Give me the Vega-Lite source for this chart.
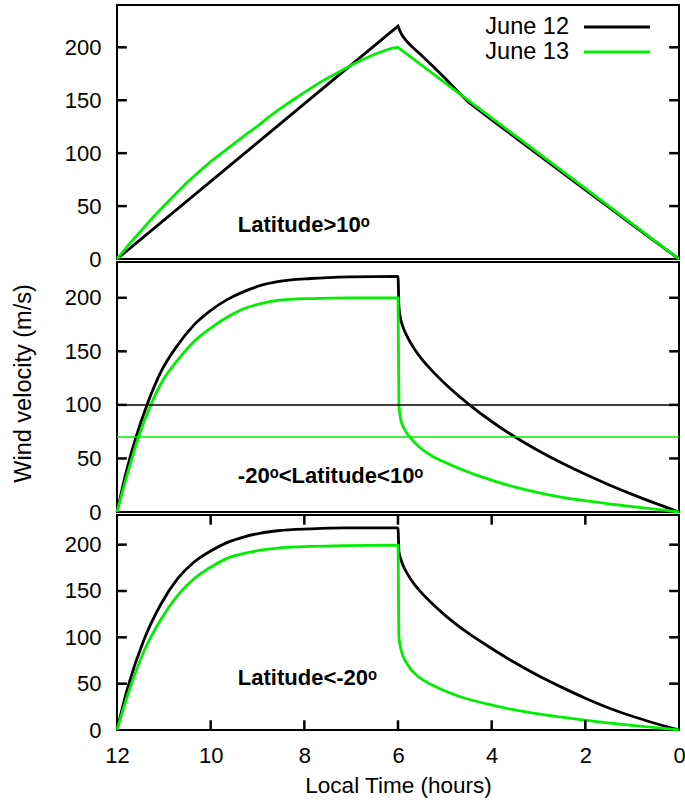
{
  "$schema": "https://vega.github.io/schema/vega-lite/v6.json",
  "padding": {"left": 10, "top": 4, "right": 2, "bottom": 2},
  "background": "white",
  "config": {
    "font": "Liberation Sans",
    "view": {"stroke": "black", "strokeWidth": 2},
    "axis": {"grid": false, "domain": false, "ticks": false, "labelFont": "Liberation Sans", "labelFontSize": 22, "labelColor": "black", "titleFont": "Liberation Sans", "titleFontSize": 22.5, "titleFontWeight": "normal", "titleColor": "black", "labelFlush": false}
  },
  "datasets": {
    "ytk": [
      {"t": "L50", "h": 12, "v": 50}, {"t": "L50", "h": 11.79, "v": 50}, {"t": "L100", "h": 12, "v": 100}, {"t": "L100", "h": 11.79, "v": 100},
      {"t": "L150", "h": 12, "v": 150}, {"t": "L150", "h": 11.79, "v": 150}, {"t": "L200", "h": 12, "v": 200}, {"t": "L200", "h": 11.79, "v": 200},
      {"t": "R50", "h": 0, "v": 50}, {"t": "R50", "h": 0.21, "v": 50}, {"t": "R100", "h": 0, "v": 100}, {"t": "R100", "h": 0.21, "v": 100},
      {"t": "R150", "h": 0, "v": 150}, {"t": "R150", "h": 0.21, "v": 150}, {"t": "R200", "h": 0, "v": 200}, {"t": "R200", "h": 0.21, "v": 200}
    ],
    "xtk": [
      {"t": "B2", "h": 2, "v": 0}, {"t": "B2", "h": 2, "v": 10.5}, {"t": "B4", "h": 4, "v": 0}, {"t": "B4", "h": 4, "v": 10.5},
      {"t": "B6", "h": 6, "v": 0}, {"t": "B6", "h": 6, "v": 10.5}, {"t": "B8", "h": 8, "v": 0}, {"t": "B8", "h": 8, "v": 10.5},
      {"t": "B10", "h": 10, "v": 0}, {"t": "B10", "h": 10, "v": 10.5},
      {"t": "T2", "h": 2, "v": 232}, {"t": "T2", "h": 2, "v": 221.5}, {"t": "T4", "h": 4, "v": 232}, {"t": "T4", "h": 4, "v": 221.5},
      {"t": "T6", "h": 6, "v": 232}, {"t": "T6", "h": 6, "v": 221.5}, {"t": "T8", "h": 8, "v": 232}, {"t": "T8", "h": 8, "v": 221.5},
      {"t": "T10", "h": 10, "v": 232}, {"t": "T10", "h": 10, "v": 221.5}
    ],
    "top": [
      {"series": "June 12", "h": 12, "v": 0}, {"series": "June 12", "h": 9, "v": 110}, {"series": "June 12", "h": 6, "v": 220},
      {"series": "June 12", "h": 5.95, "v": 214.5}, {"series": "June 12", "h": 5.9, "v": 210.5}, {"series": "June 12", "h": 5.8, "v": 205},
      {"series": "June 12", "h": 5.7, "v": 200.5}, {"series": "June 12", "h": 5.6, "v": 196.5}, {"series": "June 12", "h": 5.5, "v": 192.5},
      {"series": "June 12", "h": 5.25, "v": 182}, {"series": "June 12", "h": 5, "v": 171}, {"series": "June 12", "h": 4.75, "v": 159.5},
      {"series": "June 12", "h": 4.5, "v": 148.5}, {"series": "June 12", "h": 4.25, "v": 140},
      {"series": "June 12", "h": 4, "v": 131.5}, {"series": "June 12", "h": 3.5, "v": 115}, {"series": "June 12", "h": 3, "v": 98.3},
      {"series": "June 12", "h": 2.5, "v": 81.8}, {"series": "June 12", "h": 2, "v": 65.3}, {"series": "June 12", "h": 1.5, "v": 48.9},
      {"series": "June 12", "h": 1, "v": 32.5}, {"series": "June 12", "h": 0.5, "v": 16.2}, {"series": "June 12", "h": 0, "v": 0},
      {"series": "June 13", "h": 12, "v": 0}, {"series": "June 13", "h": 11.75, "v": 13.5}, {"series": "June 13", "h": 11.5, "v": 26},
      {"series": "June 13", "h": 11.25, "v": 38.5}, {"series": "June 13", "h": 11, "v": 50}, {"series": "June 13", "h": 10.75, "v": 61.5},
      {"series": "June 13", "h": 10.5, "v": 72.5}, {"series": "June 13", "h": 10.25, "v": 82.5}, {"series": "June 13", "h": 10, "v": 92},
      {"series": "June 13", "h": 9.75, "v": 100.5}, {"series": "June 13", "h": 9.5, "v": 109}, {"series": "June 13", "h": 9.25, "v": 117.5},
      {"series": "June 13", "h": 9, "v": 125.5}, {"series": "June 13", "h": 8.75, "v": 134.5}, {"series": "June 13", "h": 8.5, "v": 142.5},
      {"series": "June 13", "h": 8.25, "v": 150}, {"series": "June 13", "h": 8, "v": 157.5}, {"series": "June 13", "h": 7.75, "v": 164.5},
      {"series": "June 13", "h": 7.5, "v": 171}, {"series": "June 13", "h": 7.25, "v": 177}, {"series": "June 13", "h": 7, "v": 183},
      {"series": "June 13", "h": 6.75, "v": 188.5}, {"series": "June 13", "h": 6.5, "v": 193.5}, {"series": "June 13", "h": 6.25, "v": 197.5},
      {"series": "June 13", "h": 6.1, "v": 199.5}, {"series": "June 13", "h": 6, "v": 200}, {"series": "June 13", "h": 3, "v": 100},
      {"series": "June 13", "h": 0, "v": 0}
    ],
    "mid": [
      {"series": "June 12", "h": 12, "v": 0}, {"series": "June 12", "h": 11.8, "v": 38}, {"series": "June 12", "h": 11.59, "v": 70.5},
      {"series": "June 12", "h": 11.36, "v": 100}, {"series": "June 12", "h": 11.06, "v": 131},
      {"series": "June 12", "h": 10.71, "v": 155.5}, {"series": "June 12", "h": 10.36, "v": 174.5}, {"series": "June 12", "h": 9.99, "v": 188.5},
      {"series": "June 12", "h": 9.64, "v": 198.5}, {"series": "June 12", "h": 9.28, "v": 206}, {"series": "June 12", "h": 8.93, "v": 211.5},
      {"series": "June 12", "h": 8.57, "v": 215}, {"series": "June 12", "h": 7.86, "v": 218}, {"series": "June 12", "h": 7, "v": 219.5},
      {"series": "June 12", "h": 6, "v": 220}, {"series": "June 12", "h": 5.98, "v": 191.5}, {"series": "June 12", "h": 5.94, "v": 179.5},
      {"series": "June 12", "h": 5.9, "v": 173.5}, {"series": "June 12", "h": 5.8, "v": 163.5}, {"series": "June 12", "h": 5.65, "v": 152.2},
      {"series": "June 12", "h": 5.5, "v": 143.2}, {"series": "June 12", "h": 5.3, "v": 133.2}, {"series": "June 12", "h": 5, "v": 120},
      {"series": "June 12", "h": 4.5, "v": 101}, {"series": "June 12", "h": 4, "v": 84.5}, {"series": "June 12", "h": 3.5, "v": 70},
      {"series": "June 12", "h": 3, "v": 57.2}, {"series": "June 12", "h": 2.5, "v": 45.7}, {"series": "June 12", "h": 2, "v": 35.2},
      {"series": "June 12", "h": 1.5, "v": 25.5}, {"series": "June 12", "h": 1, "v": 16.5}, {"series": "June 12", "h": 0.5, "v": 8},
      {"series": "June 12", "h": 0, "v": 0},
      {"series": "June 13", "h": 12, "v": 0}, {"series": "June 13", "h": 11.8, "v": 32}, {"series": "June 13", "h": 11.54, "v": 70},
      {"series": "June 13", "h": 11.28, "v": 100}, {"series": "June 13", "h": 11.06, "v": 120}, {"series": "June 13", "h": 10.71, "v": 141.5},
      {"series": "June 13", "h": 10.36, "v": 159}, {"series": "June 13", "h": 9.99, "v": 172}, {"series": "June 13", "h": 9.64, "v": 182},
      {"series": "June 13", "h": 9.28, "v": 190}, {"series": "June 13", "h": 8.93, "v": 194.5}, {"series": "June 13", "h": 8.57, "v": 197.5},
      {"series": "June 13", "h": 7.86, "v": 199.3}, {"series": "June 13", "h": 7, "v": 200}, {"series": "June 13", "h": 6, "v": 200},
      {"series": "June 13", "h": 5.98, "v": 100}, {"series": "June 13", "h": 5.94, "v": 86}, {"series": "June 13", "h": 5.87, "v": 78},
      {"series": "June 13", "h": 5.72, "v": 68.5}, {"series": "June 13", "h": 5.51, "v": 59.3}, {"series": "June 13", "h": 5.3, "v": 53},
      {"series": "June 13", "h": 4.94, "v": 45.3}, {"series": "June 13", "h": 4.23, "v": 33}, {"series": "June 13", "h": 3.52, "v": 23.5},
      {"series": "June 13", "h": 2.81, "v": 16.3}, {"series": "June 13", "h": 2.09, "v": 11}, {"series": "June 13", "h": 1.38, "v": 7},
      {"series": "June 13", "h": 0.67, "v": 3.4}, {"series": "June 13", "h": 0, "v": 0}
    ],
    "bot": [
      {"series": "June 12", "h": 12, "v": 0}, {"series": "June 12", "h": 11.77, "v": 46}, {"series": "June 12", "h": 11.42, "v": 98},
      {"series": "June 12", "h": 11.06, "v": 136}, {"series": "June 12", "h": 10.71, "v": 163}, {"series": "June 12", "h": 10.36, "v": 181},
      {"series": "June 12", "h": 9.99, "v": 193.5}, {"series": "June 12", "h": 9.64, "v": 202.5}, {"series": "June 12", "h": 9.28, "v": 208.5},
      {"series": "June 12", "h": 8.93, "v": 212.5}, {"series": "June 12", "h": 8.57, "v": 215}, {"series": "June 12", "h": 7.86, "v": 217},
      {"series": "June 12", "h": 7.15, "v": 218}, {"series": "June 12", "h": 6, "v": 218}, {"series": "June 12", "h": 5.98, "v": 192.5},
      {"series": "June 12", "h": 5.94, "v": 184.5}, {"series": "June 12", "h": 5.9, "v": 178.5}, {"series": "June 12", "h": 5.8, "v": 168.5},
      {"series": "June 12", "h": 5.65, "v": 157.2}, {"series": "June 12", "h": 5.5, "v": 148.2}, {"series": "June 12", "h": 5.3, "v": 137.8},
      {"series": "June 12", "h": 5, "v": 124}, {"series": "June 12", "h": 4.5, "v": 104.5}, {"series": "June 12", "h": 4, "v": 88},
      {"series": "June 12", "h": 3.5, "v": 72.5}, {"series": "June 12", "h": 3, "v": 58.5}, {"series": "June 12", "h": 2.5, "v": 46},
      {"series": "June 12", "h": 2, "v": 34.3}, {"series": "June 12", "h": 1.5, "v": 23.8}, {"series": "June 12", "h": 1, "v": 14.8},
      {"series": "June 12", "h": 0.5, "v": 7}, {"series": "June 12", "h": 0, "v": 0},
      {"series": "June 13", "h": 12, "v": 0}, {"series": "June 13", "h": 11.77, "v": 38}, {"series": "June 13", "h": 11.42, "v": 85.5},
      {"series": "June 13", "h": 11.06, "v": 119.5}, {"series": "June 13", "h": 10.71, "v": 145}, {"series": "June 13", "h": 10.36, "v": 163},
      {"series": "June 13", "h": 9.99, "v": 176}, {"series": "June 13", "h": 9.64, "v": 185.5}, {"series": "June 13", "h": 9.28, "v": 190.5},
      {"series": "June 13", "h": 8.93, "v": 194}, {"series": "June 13", "h": 8.57, "v": 196.3}, {"series": "June 13", "h": 7.86, "v": 198.1},
      {"series": "June 13", "h": 7.15, "v": 199}, {"series": "June 13", "h": 6, "v": 199.5}, {"series": "June 13", "h": 5.98, "v": 100},
      {"series": "June 13", "h": 5.93, "v": 85.6}, {"series": "June 13", "h": 5.8, "v": 71}, {"series": "June 13", "h": 5.59, "v": 58.6},
      {"series": "June 13", "h": 5.44, "v": 53.2}, {"series": "June 13", "h": 5.08, "v": 44}, {"series": "June 13", "h": 4.73, "v": 37},
      {"series": "June 13", "h": 4.01, "v": 27}, {"series": "June 13", "h": 3.3, "v": 19.7}, {"series": "June 13", "h": 2.59, "v": 14.4},
      {"series": "June 13", "h": 1.88, "v": 9.9}, {"series": "June 13", "h": 1.17, "v": 5.8}, {"series": "June 13", "h": 0.46, "v": 2.4},
      {"series": "June 13", "h": 0, "v": 0}
    ]
  },
  "spacing": 3,
  "bounds": "flush",
  "resolve": {"scale": {"color": "independent"}},
  "vconcat": [
    {
      "width": 562, "height": 254,
      "layer": [
        {
          "data": {"name": "top"},
          "mark": {"type": "line", "strokeWidth": 2.8},
          "encoding": {
            "x": {"field": "h", "type": "quantitative", "scale": {"domain": [0, 12], "reverse": true, "nice": false, "zero": false}, "axis": null},
            "y": {"field": "v", "type": "quantitative", "scale": {"domain": [0, 240], "nice": false}, "axis": {"values": [0, 50, 100, 150, 200], "title": null, "labelPadding": 16}},
            "color": {"field": "series", "type": "nominal", "scale": {"domain": ["June 12", "June 13"], "range": ["#000000", "#00ee00"]},
              "legend": {"title": null, "orient": "none", "legendX": 455.25, "legendY": 10.25, "padding": 0, "symbolType": "M0,0H12", "symbolSize": 121, "symbolStrokeWidth": 3, "symbolFillColor": "transparent", "labelAlign": "right", "labelOffset": -26.75, "labelFont": "Liberation Sans", "labelFontSize": 23.5, "labelColor": "black", "rowPadding": 0}}
          }
        },
        {
          "data": {"values": [{"label": "Latitude>10ᵒ", "h": 9.42, "v": 25.7}]},
          "mark": {"type": "text", "align": "left", "baseline": "alphabetic", "fontSize": 22, "fontWeight": "bold", "font": "Liberation Sans", "color": "black"},
          "encoding": {
            "x": {"field": "h", "type": "quantitative", "axis": null},
            "y": {"field": "v", "type": "quantitative", "axis": null},
            "text": {"field": "label"}
          }
        },
        {
          "data": {"name": "ytk"},
          "mark": {"type": "line", "color": "black", "strokeWidth": 2.5},
          "encoding": {
            "x": {"field": "h", "type": "quantitative", "axis": null},
            "y": {"field": "v", "type": "quantitative", "axis": null},
            "detail": {"field": "t"}
          }
        }
      ],
      "resolve": {"axis": {"x": "independent", "y": "independent"}}
    },
    {
      "width": 562, "height": 250,
      "layer": [
        {
          "data": {"name": "mid"},
          "mark": {"type": "line", "strokeWidth": 2.8, "interpolate": "monotone"},
          "encoding": {
            "x": {"field": "h", "type": "quantitative", "scale": {"domain": [0, 12], "reverse": true, "nice": false, "zero": false}, "axis": null},
            "y": {"field": "v", "type": "quantitative", "scale": {"domain": [0, 233.4], "nice": false}, "axis": {"values": [0, 50, 100, 150, 200], "title": "Wind velocity (m/s)", "labelPadding": 16, "titleX": -94, "titleY": 121, "titleBaseline": "middle", "titleAngle": 270, "titleFontSize": 23.5}},
            "color": {"field": "series", "type": "nominal", "scale": {"domain": ["June 12", "June 13"], "range": ["#000000", "#00ee00"]}, "legend": null}
          }
        },
        {
          "data": {"values": [{"series": "June 12", "level": 100}, {"series": "June 13", "level": 70}]},
          "mark": {"type": "rule", "strokeWidth": 1.5},
          "encoding": {
            "y": {"field": "level", "type": "quantitative", "axis": null},
            "color": {"field": "series", "type": "nominal", "scale": {"domain": ["June 12", "June 13"], "range": ["#000000", "#00ee00"]}, "legend": null}
          }
        },
        {
          "data": {"values": [{"label": "-20ᵒ<Latitude<10ᵒ", "h": 9.42, "v": 27.5}]},
          "mark": {"type": "text", "align": "left", "baseline": "alphabetic", "fontSize": 22, "fontWeight": "bold", "font": "Liberation Sans", "color": "black"},
          "encoding": {
            "x": {"field": "h", "type": "quantitative", "axis": null},
            "y": {"field": "v", "type": "quantitative", "axis": null},
            "text": {"field": "label"}
          }
        },
        {
          "data": {"name": "ytk"},
          "mark": {"type": "line", "color": "black", "strokeWidth": 2.5},
          "encoding": {
            "x": {"field": "h", "type": "quantitative", "axis": null},
            "y": {"field": "v", "type": "quantitative", "axis": null},
            "detail": {"field": "t"}
          }
        }
      ],
      "resolve": {"axis": {"x": "independent", "y": "independent"}}
    },
    {
      "width": 562, "height": 215,
      "layer": [
        {
          "data": {"name": "bot"},
          "mark": {"type": "line", "strokeWidth": 2.8, "interpolate": "monotone"},
          "encoding": {
            "x": {"field": "h", "type": "quantitative", "scale": {"domain": [0, 12], "reverse": true, "nice": false, "zero": false}, "axis": {"values": [0, 2, 4, 6, 8, 10, 12], "title": "Local Time (hours)", "labelPadding": 15, "titlePadding": 8}},
            "y": {"field": "v", "type": "quantitative", "scale": {"domain": [0, 232], "nice": false}, "axis": {"values": [0, 50, 100, 150, 200], "title": null, "labelPadding": 16}},
            "color": {"field": "series", "type": "nominal", "scale": {"domain": ["June 12", "June 13"], "range": ["#000000", "#00ee00"]}, "legend": null}
          }
        },
        {
          "data": {"values": [{"label": "Latitude<-20ᵒ", "h": 9.42, "v": 49}]},
          "mark": {"type": "text", "align": "left", "baseline": "alphabetic", "fontSize": 22, "fontWeight": "bold", "font": "Liberation Sans", "color": "black"},
          "encoding": {
            "x": {"field": "h", "type": "quantitative", "axis": null},
            "y": {"field": "v", "type": "quantitative", "axis": null},
            "text": {"field": "label"}
          }
        },
        {
          "data": {"name": "ytk"},
          "mark": {"type": "line", "color": "black", "strokeWidth": 2.5},
          "encoding": {
            "x": {"field": "h", "type": "quantitative", "axis": null},
            "y": {"field": "v", "type": "quantitative", "axis": null},
            "detail": {"field": "t"}
          }
        },
        {
          "data": {"name": "xtk"},
          "mark": {"type": "line", "color": "black", "strokeWidth": 2.5},
          "encoding": {
            "x": {"field": "h", "type": "quantitative", "axis": null},
            "y": {"field": "v", "type": "quantitative", "axis": null},
            "detail": {"field": "t"}
          }
        }
      ],
      "resolve": {"axis": {"x": "independent", "y": "independent"}}
    }
  ]
}
